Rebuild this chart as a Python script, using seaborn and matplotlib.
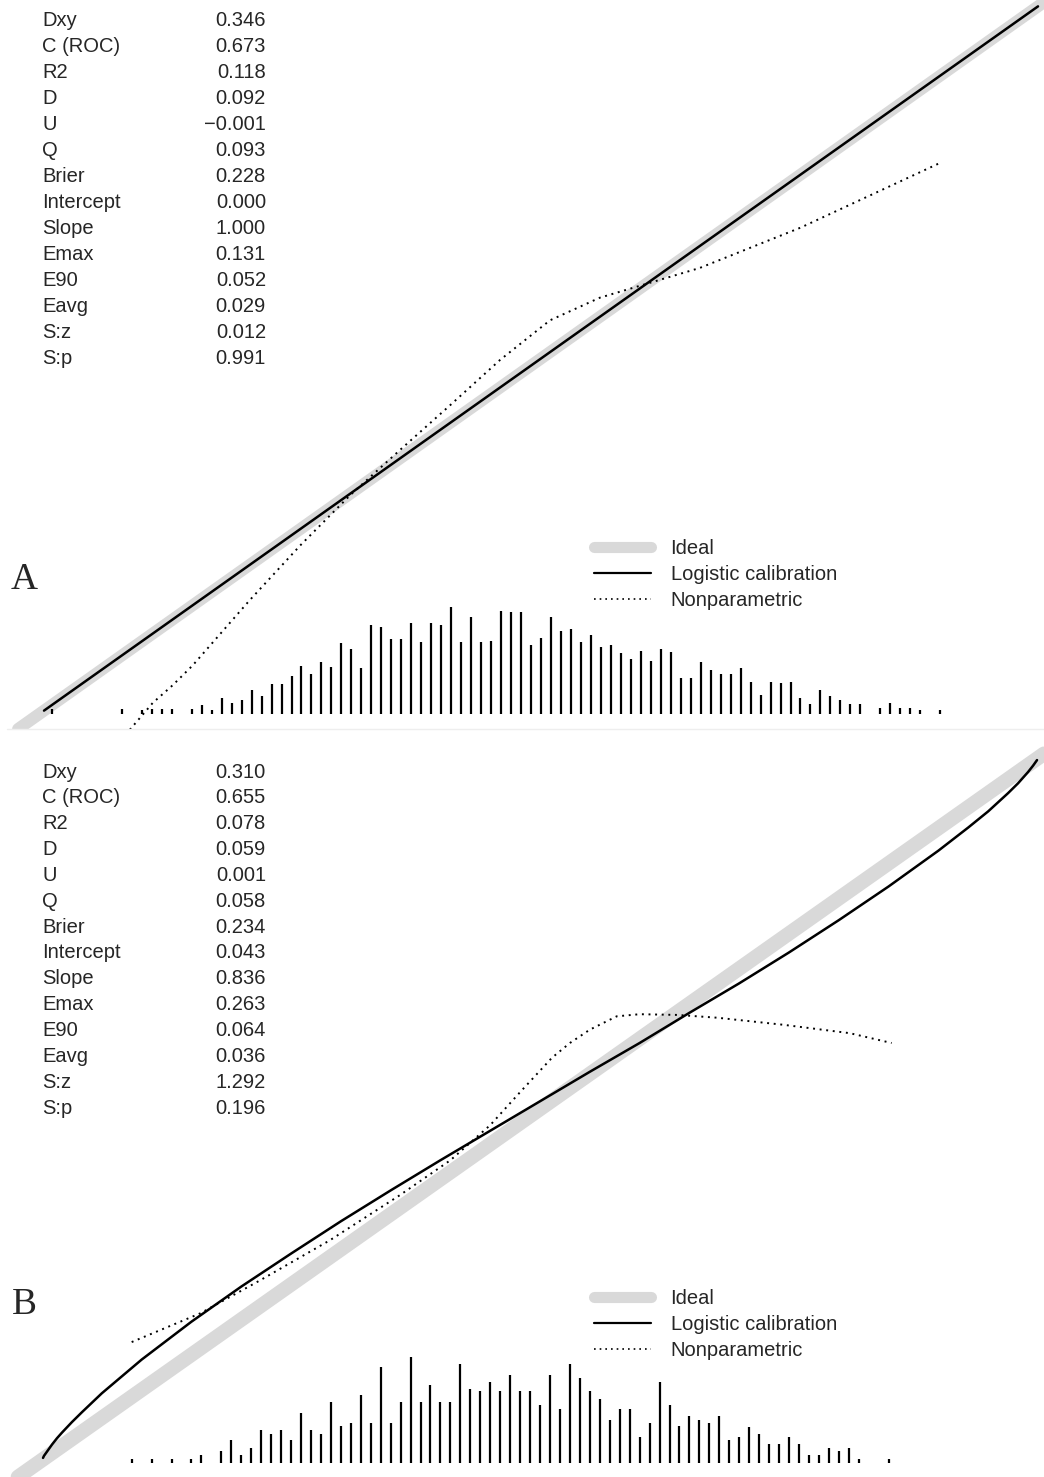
import numpy as np
import pandas as pd
import matplotlib
matplotlib.use('Agg')
import matplotlib.pyplot as plt
import seaborn as sns
from matplotlib.lines import Line2D

# ---- data ----
stat_names = ['Dxy', 'C (ROC)', 'R2', 'D', 'U', 'Q', 'Brier', 'Intercept',
              'Slope', 'Emax', 'E90', 'Eavg', 'S:z', 'S:p']
stats_a = ['0.346', '0.673', '0.118', '0.092', '\u22120.001', '0.093', '0.228',
           '0.000', '1.000', '0.131', '0.052', '0.029', '0.012', '0.991']
stats_b = ['0.310', '0.655', '0.078', '0.059', '0.001', '0.058', '0.234',
           '0.043', '0.836', '0.263', '0.064', '0.036', '1.292', '0.196']

legend_labels = ['Ideal', 'Logistic calibration', 'Nonparametric']

# logistic calibration curves (predicted, observed)
logit_a_x = [0.002, 0.25, 0.5, 0.75, 0.998]
logit_a_y = [0.002, 0.25, 0.5, 0.75, 0.998]
logit_b_x = [0.001, 0.002, 0.003, 0.005, 0.0075, 0.01, 0.015, 0.02, 0.03, 0.04,
             0.06, 0.08, 0.10, 0.125, 0.15, 0.20, 0.25, 0.30, 0.35, 0.40,
             0.45, 0.50, 0.55, 0.60, 0.65, 0.70, 0.75, 0.80, 0.85, 0.90,
             0.93, 0.95, 0.97, 0.98, 0.99, 0.995, 0.998, 0.999]
logit_b_y = [0.003, 0.006, 0.008, 0.012, 0.017, 0.022, 0.031, 0.039, 0.054, 0.068,
             0.095, 0.119, 0.143, 0.170, 0.197, 0.247, 0.294, 0.340, 0.384, 0.427,
             0.469, 0.511, 0.553, 0.594, 0.637, 0.679, 0.723, 0.769, 0.817, 0.868,
             0.901, 0.924, 0.950, 0.964, 0.980, 0.989, 0.995, 0.997]

# nonparametric (loess) curves
np_a_x = [0.088, 0.111, 0.131, 0.151, 0.208, 0.259, 0.309, 0.359, 0.409, 0.459,
          0.509, 0.559, 0.609, 0.659, 0.760, 0.902]
np_a_y = [-0.025, 0.013, 0.038, 0.066, 0.158, 0.236, 0.307, 0.371, 0.434, 0.498,
          0.554, 0.586, 0.607, 0.628, 0.685, 0.778]
np_b_x = [0.090, 0.159, 0.219, 0.289, 0.359, 0.410, 0.450, 0.480, 0.512, 0.530,
          0.550, 0.577, 0.600, 0.638, 0.678, 0.744, 0.811, 0.853]
np_b_y = [0.168, 0.209, 0.256, 0.313, 0.377, 0.427, 0.477, 0.524, 0.573, 0.594,
          0.613, 0.632, 0.635, 0.634, 0.630, 0.620, 0.608, 0.594]

# distribution of predicted risk (bin in hundredths, relative frequency)
bins_a = [1, 8, 10, 11, 12, 13, 15, 16, 17, 18, 19, 20, 21, 22, 23, 24, 25, 26, 27, 28,
          29, 30, 31, 32, 33, 34, 35, 36, 37, 38, 39, 40, 41, 42, 43, 44, 45, 46, 47, 48,
          49, 50, 51, 52, 53, 54, 55, 56, 57, 58, 59, 60, 61, 62, 63, 64, 65, 66, 67, 68,
          69, 70, 71, 72, 73, 74, 75, 76, 77, 78, 79, 80, 81, 82, 84, 85, 86, 87, 88, 90]
freq_a = [5, 5, 4, 5, 5, 5, 5, 9, 4, 16, 11, 14, 24, 18, 30, 30, 38, 48, 40, 52,
          47, 71, 65, 46, 89, 87, 75, 75, 91, 72, 91, 89, 107, 72, 97, 72, 73, 103, 102, 102,
          69, 76, 97, 83, 85, 72, 79, 67, 69, 61, 55, 63, 53, 65, 62, 36, 36, 52, 44, 40,
          40, 46, 32, 19, 32, 31, 32, 16, 10, 24, 18, 14, 10, 10, 6, 11, 6, 6, 4, 4]
bins_b = [9, 11, 13, 15, 16, 18, 19, 20, 21, 22, 23, 24, 25, 26, 27, 28, 29, 30, 31, 32,
          33, 34, 35, 36, 37, 38, 39, 40, 41, 42, 43, 44, 45, 46, 47, 48, 49, 50, 51, 52,
          53, 54, 55, 56, 57, 58, 59, 60, 61, 62, 63, 64, 65, 66, 67, 68, 69, 70, 71, 72,
          73, 74, 75, 76, 77, 78, 79, 80, 81, 82, 85]
freq_b = [4, 4, 4, 4, 8, 12, 23, 8, 15, 33, 29, 33, 23, 50, 33, 29, 61, 37, 40, 68,
          40, 97, 40, 61, 107, 61, 79, 61, 61, 100, 75, 72, 82, 72, 89, 72, 72, 58, 89, 54,
          100, 86, 72, 64, 43, 54, 54, 26, 40, 82, 58, 37, 47, 43, 40, 47, 23, 26, 36, 29,
          19, 19, 26, 19, 8, 8, 15, 12, 15, 4, 4]

W, H = 1044, 1477
IDEAL_COL = '#d9d9d9'

sns.set_style('white')
plt.rcParams['font.family'] = ['Liberation Sans', 'DejaVu Sans']

fig = plt.figure(figsize=(W / 100, H / 100), dpi=100)


def fig_text(px, py, s, **kw):
    fig.text(px / W, 1 - py / H, s, **kw)


def calib_panel(rect, xlim, ylim, lx, ly, nx, ny, bins, freq, ideal_lw, base):
    ax = fig.add_axes(rect)
    ax.set_xlim(*xlim)
    ax.set_ylim(*ylim)
    ax.axis('off')
    ax.axline((0, 0), slope=1, color=IDEAL_COL, lw=ideal_lw, solid_capstyle='round', zorder=1)
    sns.lineplot(x=lx, y=ly, ax=ax, color='black', lw=1.8, estimator=None, zorder=3)
    sns.lineplot(x=nx, y=ny, ax=ax, color='black', lw=1.4, estimator=None,
                 linestyle=(0, (1, 2.4)), zorder=3)
    f = np.array(freq, dtype=float)
    ax.vlines(np.array(bins) / 100, base, base + f / f.max() * 0.151,
              color='black', lw=1.6, zorder=2)
    handles = [Line2D([], [], color=IDEAL_COL, lw=8, solid_capstyle='round'),
               Line2D([], [], color='black', lw=1.6),
               Line2D([], [], color='black', lw=1.2, linestyle=(0, (1, 2.4)))]
    return ax, handles


# panel A occupies pixel rows 0..729, panel B rows 740..1477
ax_a, h_a = calib_panel([0, 1 - 729 / H, 1, 729 / H], (-0.0421, 1.004), (-0.024, 1.007),
                        logit_a_x, logit_a_y, np_a_x, np_a_y, bins_a, freq_a, 8.6, -0.003)
ax_b, h_b = calib_panel([0, 0, 1, 737 / H], (-0.0422, 1.006), (-0.0242, 1.0256),
                        logit_b_x, logit_b_y, np_b_x, np_b_y, bins_b, freq_b, 10.5, -0.004)

for ax, handles, top in [(ax_a, h_a, 539), (ax_b, h_b, 1289)]:
    ax.legend(handles, legend_labels, loc='upper left', frameon=False,
              bbox_to_anchor=(594 / W, 1 - top / H), bbox_transform=fig.transFigure,
              borderpad=0, borderaxespad=0, handlelength=2.85, handletextpad=0.95,
              labelspacing=0.36, fontsize=14.5)

# statistics tables
for vals, y0, step in [(stats_a, 20, 26.0), (stats_b, 772, 25.85)]:
    for i, (name, v) in enumerate(zip(stat_names, vals)):
        y = y0 + i * step
        fig_text(42, y, name, fontsize=14.5, va='center', ha='left')
        fig_text(266, y, v, fontsize=14.5, va='center', ha='right')

fig_text(24, 580, 'A', fontsize=27, family='Liberation Serif', ha='center', va='center')
fig_text(24, 1305, 'B', fontsize=27, family='Liberation Serif', ha='center', va='center')

# faint divider between the two panels
fig.add_artist(Line2D([7 / W, 1], [1 - 728.5 / H] * 2, color='#eeeeee', lw=1))

fig.savefig('out.png', dpi=100)
